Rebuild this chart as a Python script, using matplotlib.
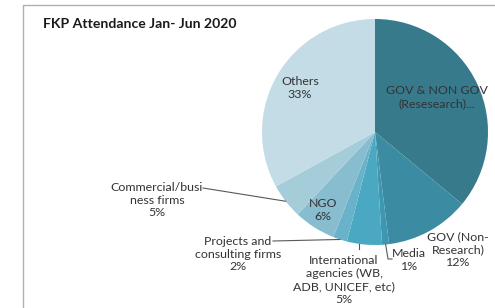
import numpy as np
import matplotlib
matplotlib.use("Agg")
import matplotlib.pyplot as plt

plt.rcParams['font.family'] = ['Lato', 'DejaVu Sans']

# slices, clockwise from 12 o'clock
categories = ["GOV & NON GOV\n(Resesearch)...", "GOV (Non-\nResearch)", "Media",
              "International\nagencies (WB,\nADB, UNICEF, etc)", "Projects and\nconsulting firms",
              "NGO", "Commercial/busi\nness firms", "Others"]
shares = [36, 12, 1, 5, 2, 6, 5, 33]
colors = ["#367a8c", "#3b8ba2", "#3e97b0", "#4aa8c3", "#68b3c9", "#88bdcf", "#a5ccd9", "#c4dce5"]
show_pct = [False, True, True, True, True, True, True, True]

W, H = 495, 308
fig = plt.figure(figsize=(W / 100, H / 100), dpi=100)
ax = fig.add_axes([0, 0, 1, 1])

cx, cy, r = 375, 176, 113
wedges, _ = ax.pie(shares, colors=colors, startangle=90, counterclock=False,
                   center=(cx, cy), radius=r, frame=True,
                   wedgeprops=dict(linewidth=0))
ax.set_xlim(0, W)
ax.set_ylim(0, H)
ax.set_aspect('equal')
ax.axis('off')

# chart border (cropped excel frame)
ax.plot([23, 23, W], [0, H - 5, H - 5], color="#b0b0b0", lw=1, clip_on=False)

ax.text(43, H - 24, "FKP Attendance Jan- Jun 2020", fontsize=10.1, fontweight='bold',
        color="#1a1a1a", va='center', ha='left')

txt_color = "#333333"
fs = 8.9


def label(i):
    t = categories[i]
    if show_pct[i]:
        t += "\n%d%%" % shares[i]
    return t


def edge(i, frac=0.5, rad=1.0):
    w = wedges[i]
    a = np.deg2rad(w.theta1 + (w.theta2 - w.theta1) * frac)
    return cx + r * rad * np.cos(a), cy + r * rad * np.sin(a)


# inside labels
inside = {0: (437, H - 97), 5: (323, H - 210), 7: (300, H - 88)}
for i, pos in inside.items():
    ax.text(pos[0], pos[1], label(i), fontsize=fs, color=txt_color, ha='center', va='center',
            linespacing=1.2)

# outside labels with leader lines
ax.text(458, H - 250, label(1), fontsize=fs, color=txt_color, ha='center', va='center',
        linespacing=1.2)

lc = "#595959"
x0, y0 = edge(2)
ax.plot([x0, 388, 392], [y0, H - 259, H - 259], color=lc, lw=0.8)
ax.text(409, H - 260, label(2), fontsize=fs, color=txt_color, ha='center', va='center',
        linespacing=1.2)

x0, y0 = edge(3, 0.35)
ax.plot([x0, x0], [y0, H - 249], color=lc, lw=0.8)
ax.text(344, H - 280, label(3), fontsize=fs, color=txt_color, ha='center', va='center',
        linespacing=1.2)

x0, y0 = edge(4)
ax.plot([273, x0], [H - 241, y0], color=lc, lw=0.8)
ax.text(238, H - 254, label(4), fontsize=fs, color=txt_color, ha='center', va='center',
        linespacing=1.2)

x0, y0 = edge(6)
ax.plot([203, x0], [H - 188, y0], color=lc, lw=0.8)
ax.text(157, H - 200, label(6), fontsize=fs, color=txt_color, ha='center', va='center',
        linespacing=1.2)

fig.savefig("out.png", dpi=100)
